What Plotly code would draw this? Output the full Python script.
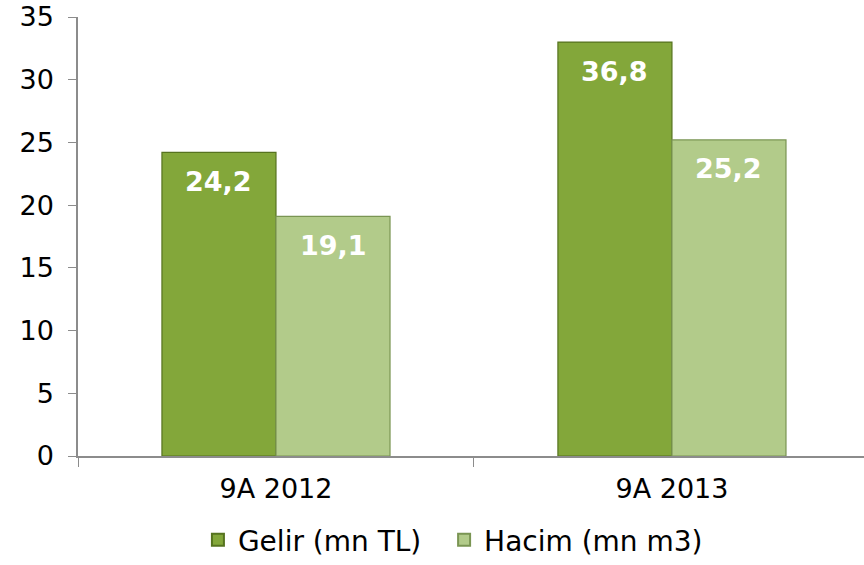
import plotly.graph_objects as go

categories = ["9A 2012", "9A 2013"]
gelir_values = [24.2, 33.0]       # drawn bar heights
gelir_labels = ["24,2", "36,8"]   # printed labels
hacim_values = [19.1, 25.2]
hacim_labels = ["19,1", "25,2"]
series_names = ["Gelir (mn TL)", "Hacim (mn m3)"]
y_ticks = [0, 5, 10, 15, 20, 25, 30, 35]

FONT = "DejaVu Sans, Verdana, sans-serif"
bargap = 0.424

fig = go.Figure()
fig.add_trace(go.Bar(
    name=series_names[0] + "\u00a0\u00a0", x=categories, y=gelir_values,
    marker=dict(color="#83a73a", line=dict(color="#56731f", width=1.2)),
    hoverinfo="skip",
))
fig.add_trace(go.Bar(
    name=series_names[1], x=categories, y=hacim_values,
    marker=dict(color="#b2cb8a", line=dict(color="#7a9553", width=1.2)),
    hoverinfo="skip",
))

w = (1 - bargap) / 2
for i, (gv, gl, hv, hl) in enumerate(zip(gelir_values, gelir_labels, hacim_values, hacim_labels)):
    for off, v, lab in ((-w / 2, gv, gl), (w / 2, hv, hl)):
        fig.add_annotation(
            x=i + off, y=v, xref="x", yref="y", text="<b>%s</b>" % lab,
            showarrow=False, yanchor="middle", yshift=-29,
            font=dict(family=FONT, size=27, color="white"),
        )

H = 565
top, bottom_axis = 17, 456
plot_h = H - top  # margin b = 0
dom_bottom = (H - bottom_axis) / plot_h

fig.update_layout(
    width=864, height=H,
    margin=dict(l=78, r=0, t=top, b=0),
    paper_bgcolor="white", plot_bgcolor="white",
    barmode="group", bargap=bargap, bargroupgap=0,
    font=dict(family=FONT, size=27, color="black"),
    showlegend=True,
    legend=dict(orientation="h", x=0.477, xanchor="center",
                y=0, yanchor="bottom",
                font=dict(family=FONT, size=28, color="black"), itemsizing="constant",
                traceorder="normal"),
    xaxis=dict(range=[-0.5, 1.485], showline=True, linecolor="#8c8c8c", linewidth=1.5,
               ticks="outside", tickson="boundaries", ticklen=9, tickcolor="#8c8c8c",
               showgrid=False, zeroline=False, ticklabelstandoff=8, automargin=False,
               tickfont=dict(family=FONT, size=27, color="black")),
    yaxis=dict(range=[0, 35], tickvals=y_ticks, showline=True, linecolor="#8c8c8c",
               linewidth=1.5, ticks="outside", ticklen=8, tickcolor="#8c8c8c",
               showgrid=False, zeroline=False, ticklabelstandoff=9, automargin=False,
               domain=[dom_bottom, 1],
               tickfont=dict(family=FONT, size=27, color="black")),
)

fig.write_html("out.html", config={"displayModeBar": False},
               post_script="document.body.style.margin='0';document.body.style.overflow='hidden';")
